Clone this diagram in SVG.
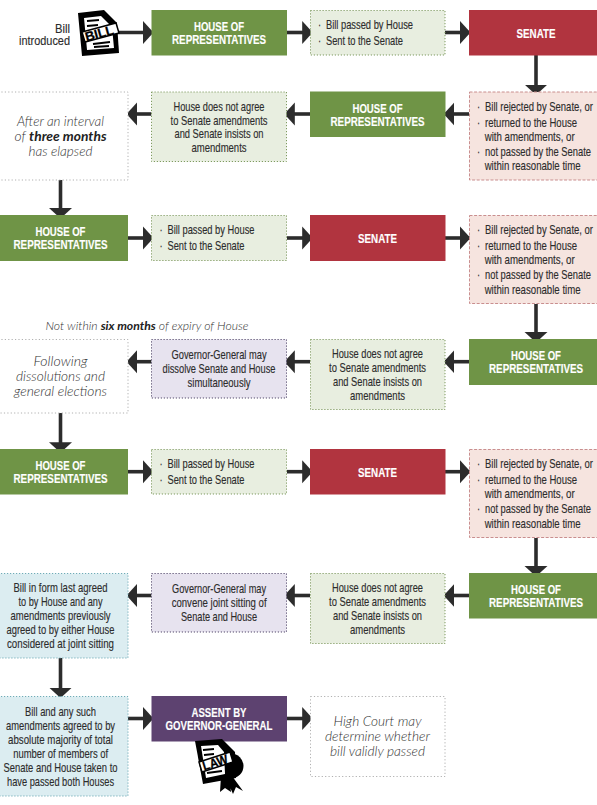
<svg xmlns="http://www.w3.org/2000/svg" width="597" height="805" viewBox="0 0 597 805">
<style>
text{font-family:"Liberation Sans",Arial,sans-serif;text-anchor:middle;fill:#2c2c2c;font-size:13px;stroke:#2c2c2c;stroke-width:.14px;transform:scaleX(.72);transform-box:fill-box;transform-origin:50% 50%}
.h{fill:#fff;stroke:#fff;font-weight:700;font-size:13.5px}
.l{text-anchor:start;transform-origin:0 50%}
.r{text-anchor:end;transform-origin:100% 50%}
.i{font-family:Lato,"Open Sans",sans-serif;font-style:italic;font-weight:300;font-size:13px;fill:#333;stroke:none;transform:none}
.i tspan{font-weight:700;fill:#222}
.g{fill:#6f9446;stroke:none}
.s{fill:#b1343f}
.a{fill:#5d4270}
.lg{fill:#e8eee0;stroke:#7f9b60;stroke-width:1;stroke-dasharray:1.2 1.8}
.p{fill:#f6e4df;stroke:#c98e8e;stroke-width:1;stroke-dasharray:3 1.6}
.v{fill:#e7e3ef;stroke:#554a6c;stroke-width:1;stroke-dasharray:1.2 1.8}
.b{fill:#dcedf1;stroke:#6fabb6;stroke-width:1;stroke-dasharray:1.2 1.8}
.w{fill:#fff;stroke:#b0b0b0;stroke-width:1;stroke-dasharray:1.2 2.2}
#connectors line{stroke:#2c2c2c;stroke-width:3.6;marker-end:url(#ah)}
.ic{font-weight:700;fill:#000;stroke:#000;stroke-width:.3px;font-size:13px;transform-box:view-box;transform-origin:0 0}
</style>
<defs>
<marker id="ah" markerUnits="userSpaceOnUse" markerWidth="11" markerHeight="24" refX="10.5" refY="12" orient="auto"><path d="M0 .5L10.5 12 0 23.5z" fill="#2c2c2c"/></marker>
</defs>
<rect width="597" height="805" fill="#fff"/>
<g id="connectors">
<line x1="117" y1="32.5" x2="153.5" y2="32.5"/>
<line x1="287" y1="32.5" x2="312.7" y2="32.5"/>
<line x1="445" y1="32.5" x2="470.5" y2="32.5"/>
<line x1="536" y1="55" x2="536" y2="95"/>
<line x1="469" y1="114" x2="443.7" y2="114"/>
<line x1="310" y1="114" x2="284.3" y2="114"/>
<line x1="151.5" y1="114" x2="126.5" y2="114"/>
<line x1="60.5" y1="180" x2="60.5" y2="218.5"/>
<line x1="128" y1="238" x2="153.5" y2="238"/>
<line x1="287" y1="238" x2="312.7" y2="238"/>
<line x1="445" y1="238" x2="470.5" y2="238"/>
<line x1="536" y1="304" x2="536" y2="342.5"/>
<line x1="469" y1="361.7" x2="443.7" y2="361.7"/>
<line x1="310" y1="361.7" x2="284.3" y2="361.7"/>
<line x1="151.5" y1="361.7" x2="126.5" y2="361.7"/>
<line x1="60.5" y1="413" x2="60.5" y2="452.7"/>
<line x1="128" y1="471.7" x2="153.5" y2="471.7"/>
<line x1="287" y1="471.7" x2="312.7" y2="471.7"/>
<line x1="445" y1="471.7" x2="470.5" y2="471.7"/>
<line x1="536" y1="538" x2="536" y2="576.5"/>
<line x1="469" y1="595.5" x2="443.7" y2="595.5"/>
<line x1="310" y1="595.5" x2="284.3" y2="595.5"/>
<line x1="151.5" y1="595.5" x2="126.5" y2="595.5"/>
<line x1="60.5" y1="658" x2="60.5" y2="698"/>
<line x1="128" y1="718.5" x2="153.5" y2="718.5"/>
<line x1="287" y1="718.5" x2="312.7" y2="718.5"/>
</g>
<g id="bill-introduced">
<text class="r" x="70" y="33.5" textLength="20.8" lengthAdjust="spacingAndGlyphs">Bill</text>
<text class="r" x="70" y="45.5" textLength="70.8" lengthAdjust="spacingAndGlyphs">introduced</text>
<path d="M78 13L104 10 117 23 119 53 82 56z" fill="#000"/>
<path d="M84 18L101 16 112 27 114 48 87 50z" fill="#fff"/>
<path d="M87 21L99 20M87 26L98 25M93 44L110 42M94 47L109 46" stroke="#000" stroke-width="2" fill="none"/>
<path d="M82 32L116 23 119 33 85 42z" fill="#fff" stroke="#000" stroke-width="1.5"/>
<text class="ic" style="transform:translate(100.5px,37.7px) rotate(-15deg)" textLength="29" lengthAdjust="spacingAndGlyphs">BILL</text>
</g>
<g id="house-1"><rect class="g" x="151.5" y="10" width="135.5" height="45.5"/>
<text class="h" x="219" y="31.5" textLength="69.4" lengthAdjust="spacingAndGlyphs">HOUSE OF</text>
<text class="h" x="219" y="44.5" textLength="130.6" lengthAdjust="spacingAndGlyphs">REPRESENTATIVES</text></g>
<g id="passed-1"><rect class="lg" x="310.5" y="10.5" width="134.5" height="44.5"/>
<text class="l" x="318" y="29">·</text><text class="l" x="318" y="45">·</text>
<text class="l" x="326" y="29" textLength="120.8" lengthAdjust="spacingAndGlyphs">Bill passed by House</text>
<text class="l" x="326" y="45" textLength="106.9" lengthAdjust="spacingAndGlyphs">Sent to the Senate</text></g>
<g id="senate-1"><rect class="s" x="469" y="10" width="128" height="45.5"/>
<text class="h" x="536" y="38" textLength="54.2" lengthAdjust="spacingAndGlyphs">SENATE</text></g>
<g id="rejected-1"><rect class="p" x="469.5" y="92" width="129" height="88"/>
<text class="l" x="477" y="111">·</text><text class="l" x="477" y="126.7">·</text><text class="l" x="477" y="156">·</text>
<text class="l" x="485" y="111" textLength="150" lengthAdjust="spacingAndGlyphs">Bill rejected by Senate, or</text>
<text class="l" x="485" y="126.7" textLength="127.8" lengthAdjust="spacingAndGlyphs">returned to the House</text>
<text class="l" x="485" y="141" textLength="125" lengthAdjust="spacingAndGlyphs">with amendments, or</text>
<text class="l" x="485" y="156" textLength="147.2" lengthAdjust="spacingAndGlyphs">not passed by the Senate</text>
<text class="l" x="485" y="170.5" textLength="133.3" lengthAdjust="spacingAndGlyphs">within reasonable time</text></g>
<g id="house-2"><rect class="g" x="310" y="91.5" width="135.5" height="45.5"/>
<text class="h" x="377.5" y="113" textLength="69.4" lengthAdjust="spacingAndGlyphs">HOUSE OF</text>
<text class="h" x="377.5" y="126" textLength="130.6" lengthAdjust="spacingAndGlyphs">REPRESENTATIVES</text></g>
<g id="disagree-1"><rect class="lg" x="151.5" y="92" width="135" height="69.5"/>
<text x="219" y="111" textLength="126.4" lengthAdjust="spacingAndGlyphs">House does not agree</text>
<text x="219" y="125" textLength="134.7" lengthAdjust="spacingAndGlyphs">to Senate amendments</text>
<text x="219" y="138.5" textLength="123.6" lengthAdjust="spacingAndGlyphs">and Senate insists on</text>
<text x="219" y="152" textLength="76.4" lengthAdjust="spacingAndGlyphs">amendments</text></g>
<g id="interval"><rect class="w" x="-2" y="92" width="130" height="88"/>
<text class="i" x="60.5" y="126" textLength="87" lengthAdjust="spacingAndGlyphs">After an interval</text>
<text class="i" x="60.5" y="141" textLength="92" lengthAdjust="spacingAndGlyphs">of <tspan>three months</tspan></text>
<text class="i" x="60.5" y="155.5" textLength="64" lengthAdjust="spacingAndGlyphs">has elapsed</text></g>
<g id="house-3"><rect class="g" x="-1" y="215" width="129" height="46"/>
<text class="h" x="60.5" y="236.5" textLength="69.4" lengthAdjust="spacingAndGlyphs">HOUSE OF</text>
<text class="h" x="60.5" y="249.5" textLength="130.6" lengthAdjust="spacingAndGlyphs">REPRESENTATIVES</text></g>
<g id="passed-2"><rect class="lg" x="151.5" y="215.5" width="135" height="45"/>
<text class="l" x="159.5" y="234.5">·</text><text class="l" x="159.5" y="250.5">·</text>
<text class="l" x="167.5" y="234.5" textLength="120.8" lengthAdjust="spacingAndGlyphs">Bill passed by House</text>
<text class="l" x="167.5" y="250.5" textLength="106.9" lengthAdjust="spacingAndGlyphs">Sent to the Senate</text></g>
<g id="senate-2"><rect class="s" x="310" y="215" width="135.5" height="46"/>
<text class="h" x="377.5" y="243" textLength="54.2" lengthAdjust="spacingAndGlyphs">SENATE</text></g>
<g id="rejected-2"><rect class="p" x="469.5" y="215.5" width="129" height="88"/>
<text class="l" x="477" y="234.5">·</text><text class="l" x="477" y="250">·</text><text class="l" x="477" y="279.5">·</text>
<text class="l" x="485" y="234.5" textLength="150" lengthAdjust="spacingAndGlyphs">Bill rejected by Senate, or</text>
<text class="l" x="485" y="250" textLength="127.8" lengthAdjust="spacingAndGlyphs">returned to the House</text>
<text class="l" x="485" y="264.5" textLength="125" lengthAdjust="spacingAndGlyphs">with amendments, or</text>
<text class="l" x="485" y="279.5" textLength="147.2" lengthAdjust="spacingAndGlyphs">not passed by the Senate</text>
<text class="l" x="485" y="294" textLength="133.3" lengthAdjust="spacingAndGlyphs">within reasonable time</text></g>
<g id="six-months"><text class="i" x="147" y="330" textLength="203" lengthAdjust="spacingAndGlyphs" style="font-size:12px">Not within <tspan>six months</tspan> of expiry of House</text></g>
<g id="house-4"><rect class="g" x="469" y="339" width="128" height="46"/>
<text class="h" x="536" y="360.5" textLength="69.4" lengthAdjust="spacingAndGlyphs">HOUSE OF</text>
<text class="h" x="536" y="373.5" textLength="130.6" lengthAdjust="spacingAndGlyphs">REPRESENTATIVES</text></g>
<g id="disagree-2"><rect class="lg" x="310.5" y="339.5" width="134.5" height="70"/>
<text x="377.5" y="358.5" textLength="126.4" lengthAdjust="spacingAndGlyphs">House does not agree</text>
<text x="377.5" y="372.5" textLength="134.7" lengthAdjust="spacingAndGlyphs">to Senate amendments</text>
<text x="377.5" y="386" textLength="123.6" lengthAdjust="spacingAndGlyphs">and Senate insists on</text>
<text x="377.5" y="400" textLength="76.4" lengthAdjust="spacingAndGlyphs">amendments</text></g>
<g id="dissolve"><rect class="v" x="151.5" y="339.5" width="135" height="58.5"/>
<text x="219" y="359" textLength="131.9" lengthAdjust="spacingAndGlyphs">Governor-General may</text>
<text x="219" y="373" textLength="156.9" lengthAdjust="spacingAndGlyphs">dissolve Senate and House</text>
<text x="219" y="387" textLength="87.5" lengthAdjust="spacingAndGlyphs">simultaneously</text></g>
<g id="elections"><rect class="w" x="-2" y="339.5" width="130" height="73.5"/>
<text class="i" x="60.5" y="366" textLength="54" lengthAdjust="spacingAndGlyphs">Following</text>
<text class="i" x="60.5" y="381" textLength="89" lengthAdjust="spacingAndGlyphs">dissolutions and</text>
<text class="i" x="60.5" y="396" textLength="93" lengthAdjust="spacingAndGlyphs">general elections</text></g>
<g id="house-5"><rect class="g" x="-1" y="449" width="129" height="45.5"/>
<text class="h" x="60.5" y="470" textLength="69.4" lengthAdjust="spacingAndGlyphs">HOUSE OF</text>
<text class="h" x="60.5" y="483" textLength="130.6" lengthAdjust="spacingAndGlyphs">REPRESENTATIVES</text></g>
<g id="passed-3"><rect class="lg" x="151.5" y="449.5" width="135" height="44.5"/>
<text class="l" x="159.5" y="468">·</text><text class="l" x="159.5" y="484">·</text>
<text class="l" x="167.5" y="468" textLength="120.8" lengthAdjust="spacingAndGlyphs">Bill passed by House</text>
<text class="l" x="167.5" y="484" textLength="106.9" lengthAdjust="spacingAndGlyphs">Sent to the Senate</text></g>
<g id="senate-3"><rect class="s" x="310" y="449" width="135.5" height="45.5"/>
<text class="h" x="377.5" y="477" textLength="54.2" lengthAdjust="spacingAndGlyphs">SENATE</text></g>
<g id="rejected-3"><rect class="p" x="469.5" y="449.5" width="129" height="88"/>
<text class="l" x="477" y="468.5">·</text><text class="l" x="477" y="484">·</text><text class="l" x="477" y="513.5">·</text>
<text class="l" x="485" y="468.5" textLength="150" lengthAdjust="spacingAndGlyphs">Bill rejected by Senate, or</text>
<text class="l" x="485" y="484" textLength="127.8" lengthAdjust="spacingAndGlyphs">returned to the House</text>
<text class="l" x="485" y="498.5" textLength="125" lengthAdjust="spacingAndGlyphs">with amendments, or</text>
<text class="l" x="485" y="513.5" textLength="147.2" lengthAdjust="spacingAndGlyphs">not passed by the Senate</text>
<text class="l" x="485" y="528" textLength="133.3" lengthAdjust="spacingAndGlyphs">within reasonable time</text></g>
<g id="house-6"><rect class="g" x="469" y="573" width="128" height="45.5"/>
<text class="h" x="536" y="594" textLength="69.4" lengthAdjust="spacingAndGlyphs">HOUSE OF</text>
<text class="h" x="536" y="607" textLength="130.6" lengthAdjust="spacingAndGlyphs">REPRESENTATIVES</text></g>
<g id="disagree-3"><rect class="lg" x="310.5" y="573.5" width="134.5" height="70"/>
<text x="377.5" y="592" textLength="126.4" lengthAdjust="spacingAndGlyphs">House does not agree</text>
<text x="377.5" y="606" textLength="134.7" lengthAdjust="spacingAndGlyphs">to Senate amendments</text>
<text x="377.5" y="620" textLength="123.6" lengthAdjust="spacingAndGlyphs">and Senate insists on</text>
<text x="377.5" y="634" textLength="76.4" lengthAdjust="spacingAndGlyphs">amendments</text></g>
<g id="convene"><rect class="v" x="151.5" y="573.5" width="135" height="58.5"/>
<text x="219" y="593" textLength="130.6" lengthAdjust="spacingAndGlyphs">Governor-General may</text>
<text x="219" y="607" textLength="131.9" lengthAdjust="spacingAndGlyphs">convene joint sitting of</text>
<text x="219" y="621" textLength="105.6" lengthAdjust="spacingAndGlyphs">Senate and House</text></g>
<g id="joint-sitting"><rect class="b" x="-2" y="573.5" width="130" height="84.5"/>
<text x="60.5" y="592" textLength="130.6" lengthAdjust="spacingAndGlyphs">Bill in form last agreed</text>
<text x="60.5" y="606" textLength="116.7" lengthAdjust="spacingAndGlyphs">to by House and any</text>
<text x="60.5" y="620" textLength="138.9" lengthAdjust="spacingAndGlyphs">amendments previously</text>
<text x="60.5" y="634" textLength="150" lengthAdjust="spacingAndGlyphs">agreed to by either House</text>
<text x="60.5" y="648" textLength="148.6" lengthAdjust="spacingAndGlyphs">considered at joint sitting</text></g>
<g id="majority"><rect class="b" x="-2" y="696.5" width="130" height="99.5"/>
<text x="60.5" y="716" textLength="98.6" lengthAdjust="spacingAndGlyphs">Bill and any such</text>
<text x="60.5" y="730" textLength="151.4" lengthAdjust="spacingAndGlyphs">amendments agreed to by</text>
<text x="60.5" y="744" textLength="145.8" lengthAdjust="spacingAndGlyphs">absolute majority of total</text>
<text x="60.5" y="758" textLength="131.9" lengthAdjust="spacingAndGlyphs">number of members of</text>
<text x="60.5" y="772" textLength="158.3" lengthAdjust="spacingAndGlyphs">Senate and House taken to</text>
<text x="60.5" y="786" textLength="148.6" lengthAdjust="spacingAndGlyphs">have passed both Houses</text></g>
<g id="assent"><rect class="a" x="151.5" y="696" width="135.5" height="45.5"/>
<text class="h" x="219" y="717" textLength="76.4" lengthAdjust="spacingAndGlyphs">ASSENT BY</text>
<text class="h" x="219" y="730" textLength="148.6" lengthAdjust="spacingAndGlyphs">GOVERNOR-GENERAL</text></g>
<g id="law-icon">
<path d="M232 776L243 791 236 787 233 794 226 778z M229 776L231 792 225 788 220 792 221 776z" fill="#000"/>
<circle cx="231" cy="766" r="12.5" fill="#000"/>
<path d="M195 741L222 739 235 752 236 778 203 784z" fill="#000"/>
<path d="M201 746L218 745 224 752 225 774 206 778z" fill="#fff"/>
<path d="M203 750L214 749M204 755L214 754M207 773L222 771" stroke="#000" stroke-width="2" fill="none"/>
<path d="M199 762L230 752 233 762 202 772z" fill="#fff" stroke="#000" stroke-width="1.5"/>
<text class="ic" style="transform:translate(216.5px,766.7px) rotate(-17deg)" textLength="26" lengthAdjust="spacingAndGlyphs">LAW</text>
</g>
<g id="high-court"><rect class="w" x="310.5" y="696.5" width="134.5" height="80"/>
<text class="i" x="377.5" y="726" textLength="88" lengthAdjust="spacingAndGlyphs">High Court may</text>
<text class="i" x="377.5" y="741" textLength="105" lengthAdjust="spacingAndGlyphs">determine whether</text>
<text class="i" x="377.5" y="756" textLength="95" lengthAdjust="spacingAndGlyphs">bill validly passed</text></g>
</svg>
